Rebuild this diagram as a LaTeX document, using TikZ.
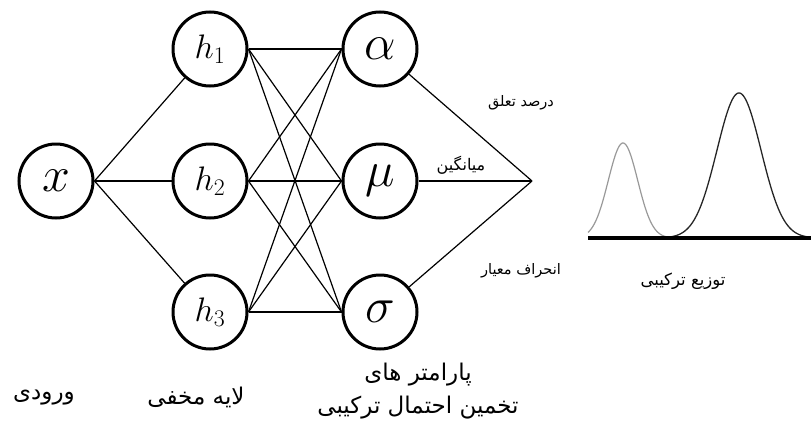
\RequirePackage{fix-cm}
\documentclass[tikz,border=0pt]{standalone}
\usepackage{fontspec}
\newfontfamily\arabicfont[Script=Arabic]{DejaVu Sans}
\TeXXeTstate=1
\begin{document}
\begin{tikzpicture}[x=1pt,y=-1pt,
  neuron/.style={circle,draw,line width=3pt,minimum size=74pt,inner sep=0pt},
  bigsym/.style={font=\fontsize{50}{50}\selectfont},
  hsym/.style={font=\fontsize{34}{34}\selectfont},
  conn/.style={line width=1.2pt},
  biglbl/.style={font=\arabicfont\fontsize{23}{28}\selectfont,align=center},
  smalllbl/.style={font=\arabicfont\fontsize{14.5}{16}\selectfont}]
\useasboundingbox (0,0) rectangle (811,434);
% nodes
\node[neuron,bigsym] (x) at (56,181) {$x$};
\node[neuron,hsym] (h1) at (210,49) {$h_1$};
\node[neuron,hsym] (h2) at (210,181) {$h_2$};
\node[neuron,hsym] (h3) at (210,312) {$h_3$};
\node[neuron,bigsym] (a) at (380,49) {$\alpha$};
\node[neuron,bigsym] (m) at (380,181) {$\mu$};
\node[neuron,bigsym] (s) at (380,312) {$\sigma$};
\coordinate (apex) at (532,181);
% connections
\foreach \h in {h1,h2,h3} {
  \draw[conn] (x.east) -- (\h);
  \foreach \o in {a,m,s} {
    \draw[conn] (\h.east) -- (\o.west);
  }
}
\foreach \o in {a,m,s} {
  \draw[conn] (\o) -- (apex);
}
% small labels
\node[smalllbl] (l1) at (521,103) {\beginR درصد تعلق\endR};
\node[smalllbl,font=\arabicfont\fontsize{16}{18}\selectfont] (l2) at (461,165) {\beginR میانگین\endR};
\node[smalllbl] (l3) at (521,271) {\beginR انحراف معیار\endR};
% distribution
\draw[line width=1.2pt,gray!80] plot[domain=588:668,samples=80,smooth] (\x,{238-95*exp(-((\x-623)^2)/(2*14.7^2))});
\draw[line width=1.3pt,black!85] plot[domain=668:810,samples=120,smooth] (\x,{238-145*exp(-((\x-739)^2)/(2*22^2))});
\coordinate (b0) at (588,238);
\coordinate (b1) at (811,238);
\draw[line width=4pt] (b0) -- (b1);
\node[smalllbl,font=\arabicfont\fontsize{16.5}{18}\selectfont] (l4) at (683,281) {\beginR توزیع ترکیبی\endR};
% bottom labels
\node[biglbl] (in) at (44,398) {\beginR ورودی\endR};
\node[biglbl] (hid) at (196,397) {\beginR لایه مخفی\endR};
\node[biglbl] (par) at (418,375) {\beginR پارامتر های\endR};
\node[biglbl] (par2) at (418,408) {\beginR تخمین احتمال ترکیبی\endR};
\end{tikzpicture}
\end{document}
